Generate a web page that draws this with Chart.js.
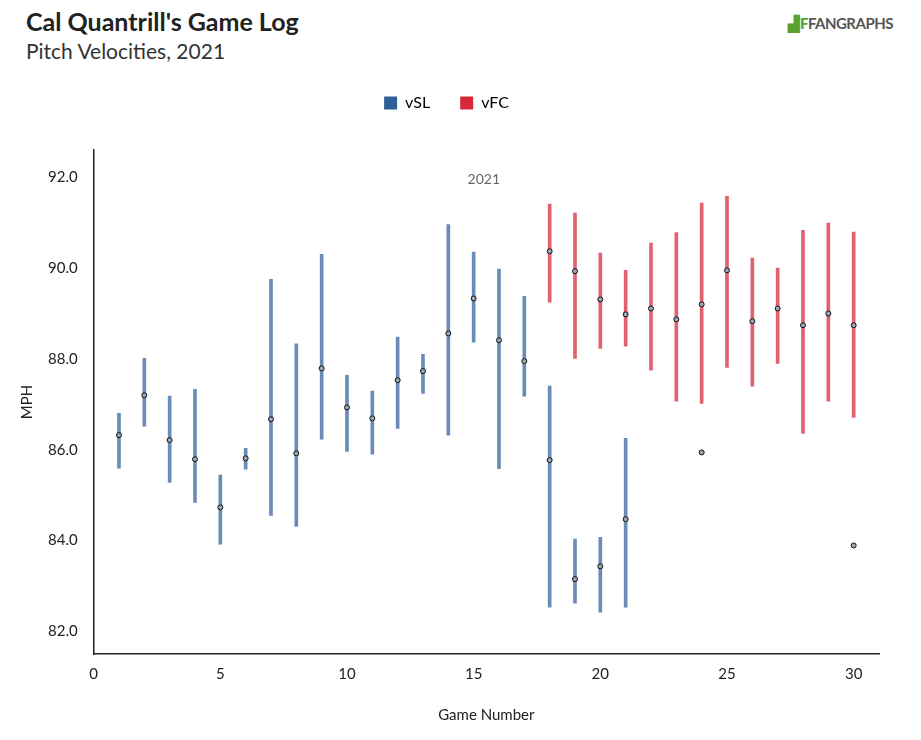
<!DOCTYPE html>
<html><head><meta charset="utf-8">
<script src="https://cdn.jsdelivr.net/npm/chart.js@4/dist/chart.umd.min.js"></script>
<style>
body{margin:0;background:#fff;font-family:Lato,sans-serif;}
#t{position:absolute;left:26px;top:6px;font-size:25px;font-weight:bold;color:#222;}
#s{position:absolute;left:26px;top:38px;font-size:21px;color:#333;}
#logo{position:absolute;right:28px;top:14px;font-size:15px;font-weight:bold;color:#555;letter-spacing:-0.5px}
#logo b{color:#5aa12f}
#wrap{position:absolute;left:0;top:65px;width:921px;height:675px;}
</style></head><body>
<div id="t">Cal Quantrill's Game Log</div>
<div id="s">Pitch Velocities, 2021</div>
<div id="logo"><b>▟F</b>FANGRAPHS</div>
<div id="wrap"><canvas id="c" width="921" height="675"></canvas></div>
<script>
// vSL
const slGames = [1,2,3,4,5,6,7,8,9,10,11,12,13,14,15,16,17,18,19,20,21];
const slMean = [86.32,87.20,86.21,85.79,84.73,85.81,86.67,85.92,87.79,86.93,86.69,87.53,87.73,88.56,89.33,88.41,87.95,85.77,83.15,83.43,84.47];
const slHigh = [86.80,88.01,87.18,87.33,85.44,86.03,89.75,88.33,90.30,87.64,87.29,88.48,88.10,90.96,90.35,89.98,89.38,87.40,84.03,84.07,86.25];
const slLow  = [85.59,86.52,85.28,84.84,83.92,85.57,84.55,84.31,86.23,85.96,85.90,86.47,87.24,86.32,88.37,85.58,87.18,82.53,82.62,82.42,82.53];
const slExtraGames = [24,30];
const slExtraMean = [85.94,83.89];
// vFC
const fcGames = [18,19,20,21,22,23,24,25,26,27,28,29,30];
const fcMean = [90.37,89.93,89.31,88.98,89.11,88.87,89.20,89.95,88.83,89.11,88.74,89.00,88.74];
const fcHigh = [91.41,91.21,90.33,89.95,90.55,90.78,91.43,91.58,90.22,90.00,90.83,90.99,90.79];
const fcLow  = [89.25,88.01,88.23,88.28,87.75,87.07,87.02,87.81,87.40,87.90,86.36,87.07,86.71];

const pts = (g,m)=>g.map((x,i)=>({x:x,y:m[i]}));
const dot = {type:'scatter',backgroundColor:'#9aa6b2',borderColor:'#111',borderWidth:1,pointRadius:2.5,order:0};
const yearLabel = {id:'yl',afterDraw(ch){const a=ch.chartArea,c=ch.ctx;c.save();c.font='14px Lato';c.fillStyle='#666';c.textAlign='center';c.fillText('2021',ch.scales.x.getPixelForValue(15.4),a.top+29);c.restore();}};
const legendSpace = {id:'ls',beforeInit(ch){const f=ch.legend.fit;ch.legend.fit=function(){f.call(this);this.height+=29;};}};

new Chart(document.getElementById('c'),{
  type:'bar',
  data:{datasets:[
    {label:'vSL',data:slGames.map((x,i)=>({x:x,y:[slLow[i],slHigh[i]]})),backgroundColor:'rgba(70,110,165,0.8)',barThickness:3,grouped:false,order:1},
    {label:'vFC',data:fcGames.map((x,i)=>({x:x,y:[fcLow[i],fcHigh[i]]})),backgroundColor:'rgba(220,70,85,0.85)',barThickness:3,grouped:false,order:1},
    Object.assign({label:'m1',data:pts(slGames,slMean).concat(pts(slExtraGames,slExtraMean))},dot),
    Object.assign({label:'m2',data:pts(fcGames,fcMean)},dot)
  ]},
  options:{
    responsive:false,animation:false,
    layout:{padding:{left:14,right:42,top:0,bottom:12}},
    plugins:{
      legend:{labels:{boxWidth:13,boxHeight:13,padding:30,font:{family:'Lato',size:16},color:'#333',
        generateLabels:ch=>[{text:'vSL',fillStyle:'#2e5f99',strokeStyle:'#2e5f99',lineWidth:0,datasetIndex:0},{text:'vFC',fillStyle:'#d62839',strokeStyle:'#d62839',lineWidth:0,datasetIndex:1}]}},
      tooltip:{enabled:false}
    },
    scales:{
      x:{type:'linear',min:0,max:31,offset:false,grid:{display:false},border:{color:'#222',width:1.5},
        afterBuildTicks:ax=>{ax.ticks=[0,5,10,15,20,25,30].map(v=>({value:v}));},
        ticks:{color:'#222',font:{family:'Lato',size:15}},
        title:{display:true,text:'Game Number',color:'#222',font:{family:'Lato',size:15},padding:{top:20}}},
      y:{min:81.5,max:92.6,grid:{display:false},border:{color:'#222',width:1.5},
        afterBuildTicks:ax=>{ax.ticks=[82,84,86,88,90,92].map(v=>({value:v}));},
        ticks:{color:'#222',font:{family:'Lato',size:15},callback:v=>v.toFixed(1),padding:8},
        title:{display:true,text:'MPH',color:'#222',font:{family:'Lato',size:15}}}
    }
  },
  plugins:[yearLabel,legendSpace]
});
</script></body></html>
